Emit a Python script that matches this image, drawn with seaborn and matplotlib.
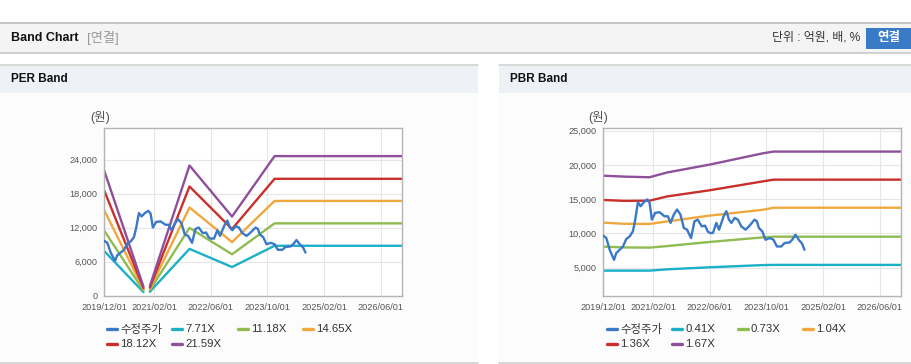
import numpy as np
import pandas as pd
import matplotlib
matplotlib.use("Agg")
import matplotlib.pyplot as plt
import matplotlib.dates as mdates
from matplotlib.patches import Rectangle
from matplotlib.lines import Line2D
from matplotlib.ticker import FuncFormatter
import seaborn as sns

W, H = 912, 364

# adjusted share price (same series in both charts)
price_dates = [
    "2019-12-01", "2019-12-27", "2020-01-25", "2020-03-02", "2020-03-21", "2020-04-19",
    "2020-05-18", "2020-06-15", "2020-07-14", "2020-08-11", "2020-08-31", "2020-09-23",
    "2020-10-16", "2020-11-13", "2020-12-12", "2021-01-01", "2021-01-21", "2021-02-18",
    "2021-03-28", "2021-05-09", "2021-06-07", "2021-06-30", "2021-07-28", "2021-08-25",
    "2021-09-23", "2021-10-22", "2021-11-19", "2021-12-23", "2022-01-21", "2022-02-18",
    "2022-03-25", "2022-04-22", "2022-05-15", "2022-06-02", "2022-06-29", "2022-07-28",
    "2022-08-20", "2022-09-09", "2022-09-29", "2022-10-22", "2022-11-13", "2022-12-04",
    "2023-01-01", "2023-01-29", "2023-02-27", "2023-04-05", "2023-05-09", "2023-06-21",
    "2023-07-11", "2023-07-28", "2023-08-26", "2023-09-23", "2023-10-28", "2023-12-01",
    "2023-12-29", "2024-02-05", "2024-03-04", "2024-04-16", "2024-05-09", "2024-06-06",
    "2024-07-04", "2024-08-02", "2024-08-22",
]
price_values = [
    9660, 9320, 7600, 6130, 7120, 7600,
    8090, 9180, 9560, 10300, 12000, 14560,
    13970, 14560, 14960, 14470, 12010, 13000,
    13090, 12500, 12500, 11530, 12750, 13490,
    12750, 10790, 10540, 9320, 11760, 12010,
    11030, 11130, 10290, 10060, 10060, 11530,
    10540, 11530, 12500, 13240, 12010, 11530,
    12260, 12010, 11030, 10540, 11130, 12010,
    11760, 10790, 10300, 9070, 9320, 9070,
    8090, 8090, 8590, 8680, 9070, 9810,
    9070, 8490, 7600,
]

# PER band (NaN = break in the line)
per_dates = ["2019-12-01", "2020-11-01", "2020-12-01", "2020-12-26",
             "2021-12-01", "2022-12-01", "2023-12-01", "2026-12-01"]
per_labels = ["7.71X", "11.18X", "14.65X", "18.12X", "21.59X"]
per_771 = [7860, 620, np.nan, 700, 8250, 5050, 8800, 8800]
per_1118 = [11450, 900, np.nan, 1000, 11950, 7300, 12750, 12750]
per_1465 = [15050, 1150, np.nan, 1250, 15550, 9450, 16700, 16700]
per_1812 = [18500, 1350, np.nan, 1450, 19250, 11750, 20600, 20600]
per_2159 = [22000, 1600, np.nan, 1700, 22950, 13950, 24600, 24600]

# PBR band
pbr_dates = ["2019-12-01", "2020-06-01", "2021-01-01", "2021-06-01",
             "2022-06-01", "2023-09-01", "2023-12-01", "2026-12-01"]
pbr_labels = ["0.41X", "0.73X", "1.04X", "1.36X", "1.67X"]
pbr_041 = [4560, 4560, 4560, 4750, 5050, 5370, 5400, 5400]
pbr_073 = [8070, 7950, 7920, 8150, 8750, 9420, 9520, 9520]
pbr_104 = [11570, 11400, 11380, 11750, 12600, 13450, 13750, 13750]
pbr_136 = [14880, 14750, 14780, 15400, 16300, 17600, 17850, 17850]
pbr_167 = [18430, 18290, 18200, 18900, 20050, 21700, 21950, 21950]

x_ticks = ["2019/12/01", "2021/02/01", "2022/06/01", "2023/10/01", "2025/02/01", "2026/06/01"]

price_color = "#3a78c8"
band_colors = ["#1bb0c6", "#8fbc50", "#f0a83e", "#c9302c", "#8e509b"]

sns.set_style("white")
plt.rcParams["font.family"] = ["Liberation Sans", "Noto Sans CJK KR", "DejaVu Sans"]


def fx(px):
    return px / W


def fy(py):
    return 1 - py / H


def band_frame(dates, series, labels):
    rows = []
    for vals, lab in zip(series, labels):
        d = pd.DataFrame({"date": pd.to_datetime(dates), "value": vals})
        d["seg"] = d["value"].isna().cumsum()
        d = d.dropna()
        d["band"] = lab
        d["unit"] = lab + "_" + d["seg"].astype(str)
        rows.append(d)
    return pd.concat(rows, ignore_index=True)


def draw_chart(ax, bands, labels, ylim, yticks):
    price = pd.DataFrame({"date": pd.to_datetime(price_dates), "value": price_values})
    sns.lineplot(data=bands, x="date", y="value", hue="band", units="unit",
                 estimator=None, palette=dict(zip(labels, band_colors)),
                 lw=1.7, legend=False, ax=ax)
    sns.lineplot(data=price, x="date", y="value", color=price_color, lw=1.7,
                 legend=False, ax=ax, zorder=3)
    ax.set_xlim(pd.Timestamp("2019-12-01"), pd.Timestamp("2026-12-01"))
    ax.set_ylim(*ylim)
    ax.set_yticks(yticks)
    ax.yaxis.set_major_formatter(FuncFormatter(lambda v, p: f"{int(v):,}"))
    ax.set_xticks([pd.Timestamp(t.replace("/", "-")) for t in x_ticks])
    ax.xaxis.set_major_formatter(mdates.DateFormatter("%Y/%m/%d"))
    ax.set_xlabel("")
    ax.set_ylabel("")
    ax.grid(True, color="#e6e6e6", lw=0.8)
    ax.set_axisbelow(True)
    for s in ax.spines.values():
        s.set_color("#b4b4b4")
        s.set_linewidth(1.0)
    ax.tick_params(axis="both", labelsize=6.6, colors="#555555", length=3,
                   width=0.8, pad=2, direction="out")
    ax.tick_params(axis="both", color="#b4b4b4")


def draw_legend(fig, x0, y0, labels):
    names = ["수정주가"] + labels
    colors = [price_color] + band_colors
    for i, (n, c) in enumerate(zip(names, colors)):
        col, row = i % 4, i // 4
        x = x0 + col * 65.3
        y = y0 + row * 15
        fig.add_artist(Line2D([fx(x), fx(x + 10)], [fy(y), fy(y)], color=c, lw=2.4,
                              transform=fig.transFigure))
        fig.text(fx(x + 13), fy(y), n, fontsize=8.2, color="#333333", va="center")


fig = plt.figure(figsize=(W / 100, H / 100), dpi=100)
fig.patch.set_facecolor("white")


def rect(x0, y0, x1, y1, color, z=0):
    fig.add_artist(Rectangle((fx(x0), fy(y1)), fx(x1 - x0), (y1 - y0) / H,
                             facecolor=color, edgecolor="none", transform=fig.transFigure,
                             zorder=z))


def hline(x0, x1, y, color, lw=1.0):
    fig.add_artist(Line2D([fx(x0), fx(x1)], [fy(y), fy(y)], color=color, lw=lw,
                          transform=fig.transFigure))


# top header bar
rect(0, 22, W, 52, "#f4f4f4")
hline(0, W, 22.5, "#bdbdbd", 1.2)
hline(0, W, 52.5, "#c8c8c8", 1.2)
fig.text(fx(11), fy(38), "Band Chart", fontsize=9, fontweight="bold", color="#111111", va="center")
fig.text(fx(87), fy(38), "[연결]", fontsize=9.5, color="#999999", va="center")
fig.text(fx(860), fy(38), "단위 : 억원, 배, %", fontsize=8.6, color="#333333", va="center", ha="right")
rect(866, 28, 912, 49, "#3a7bc6")
fig.text(fx(889), fy(38.5), "연결", fontsize=9, fontweight="bold", color="white", va="center", ha="center")

# panels
for x0, x1, title in [(0, 478, "PER Band"), (499, 912, "PBR Band")]:
    rect(x0, 93, x1, 363, "#fcfcfc")
    rect(x0, 64, x1, 93, "#eef2f7")
    hline(x0, x1, 64.5, "#d6d6d6", 1.2)
    hline(x0, x1, 363, "#d0d0d0", 1.2)
    fig.text(fx(x0 + 11), fy(79), title, fontsize=8.5, fontweight="bold", color="#111111", va="center")

ax1 = fig.add_axes([fx(104.3), fy(295.7), 298 / W, 167.4 / H])
ax2 = fig.add_axes([fx(603.3), fy(295.7), 298 / W, 167.4 / H])

per_bands = band_frame(per_dates, [per_771, per_1118, per_1465, per_1812, per_2159], per_labels)
pbr_bands = band_frame(pbr_dates, [pbr_041, pbr_073, pbr_104, pbr_136, pbr_167], pbr_labels)

draw_chart(ax1, per_bands, per_labels, (0, 29500), [0, 6000, 12000, 18000, 24000])
draw_chart(ax2, pbr_bands, pbr_labels, (900, 25350), [5000, 10000, 15000, 20000, 25000])

fig.text(fx(100), fy(118), "(원)", fontsize=9, color="#555555", va="center", ha="center")
fig.text(fx(598), fy(118), "(원)", fontsize=9, color="#555555", va="center", ha="center")

draw_legend(fig, 107, 329, per_labels)
draw_legend(fig, 607, 329, pbr_labels)

fig.savefig("out.png", dpi=100, facecolor=fig.get_facecolor())
